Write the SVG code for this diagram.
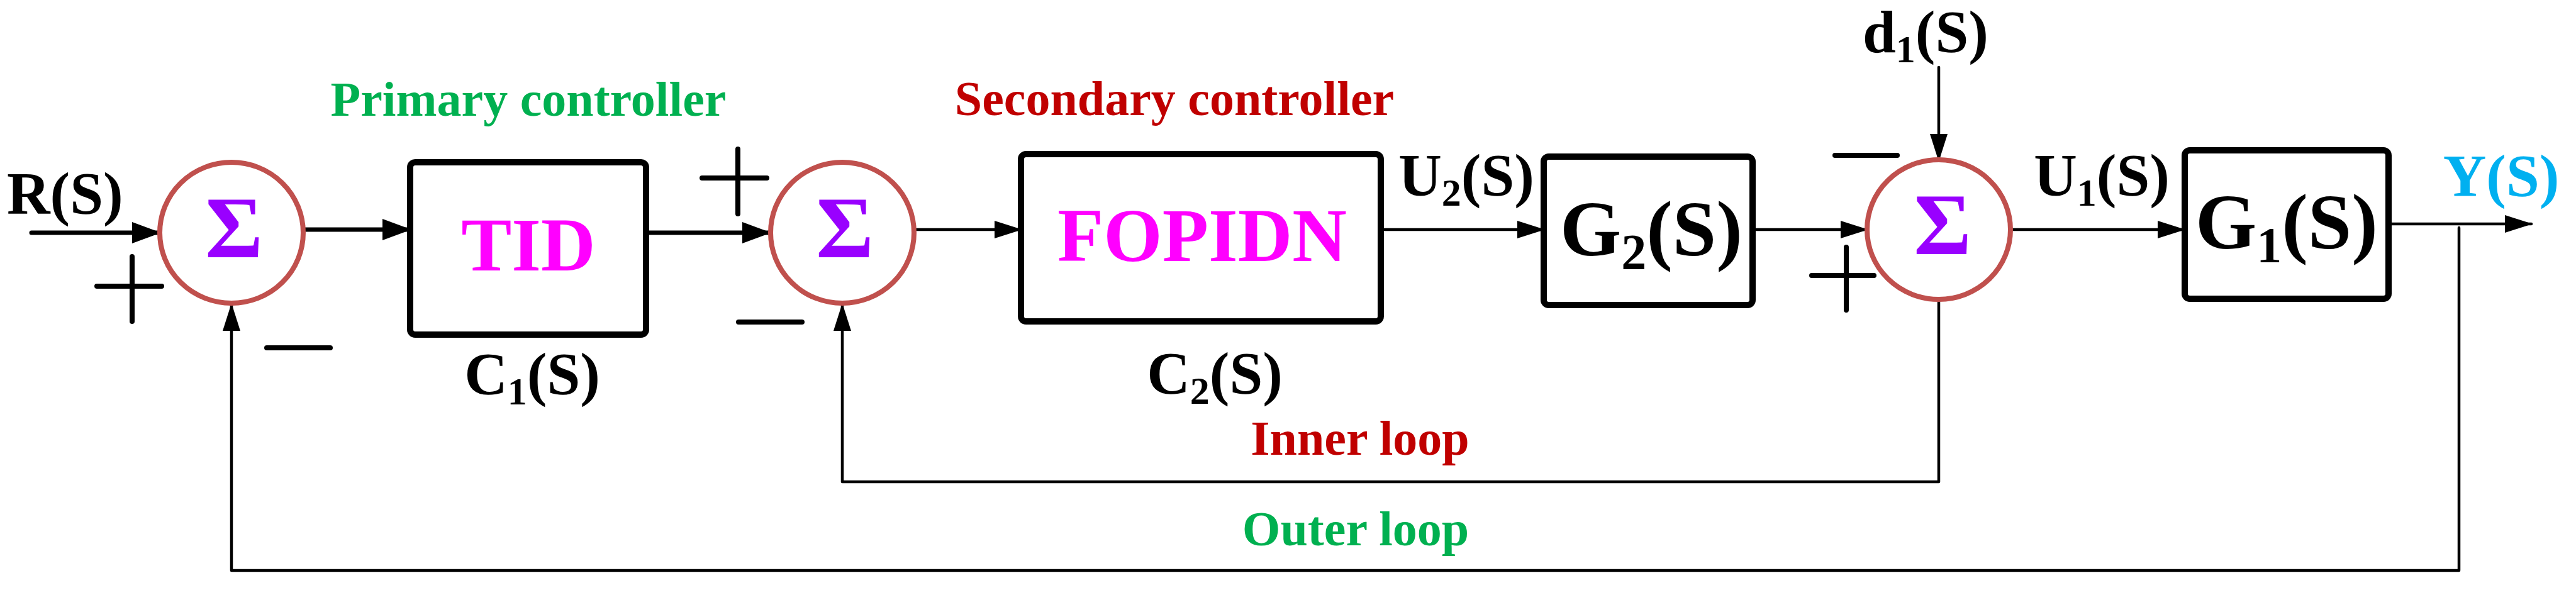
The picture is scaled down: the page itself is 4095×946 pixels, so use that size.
<svg xmlns="http://www.w3.org/2000/svg" width="4095" height="946" viewBox="0 0 4095 946">
<style>
text{font-family:"Liberation Serif","Times New Roman",serif;font-weight:bold}
.lbl{font-size:95px;fill:#000}
.blk{fill:#fff;stroke:#000;stroke-width:10}
.sum{fill:#fff;stroke:#C0504D;stroke-width:8}
.sig{font-size:140px;fill:#9900FF;text-anchor:middle}
.ctl{font-size:120px;fill:#FF00FF;text-anchor:middle}
.c{fill:none;stroke:#000;stroke-linecap:round;stroke-linejoin:round}
.thick{stroke-width:7}
.thin{stroke-width:4.5}
.sign{fill:none;stroke:#000;stroke-width:8;stroke-linecap:round}
</style>
<defs>
<marker id="ah" markerUnits="userSpaceOnUse" markerWidth="46" markerHeight="34" refX="44" refY="17" orient="auto">
<path d="M0,0 L46,17 L0,34 Z" fill="#000"/>
</marker>
<marker id="ahs" markerUnits="userSpaceOnUse" markerWidth="44" markerHeight="28" refX="42" refY="14" orient="auto">
<path d="M0,0 L44,14 L0,28 Z" fill="#000"/>
</marker>
</defs>
<g id="connectors">
<path class="c thick" d="M50,370 H254" marker-end="url(#ah)"/>
<path class="c thick" d="M482,365 H652" marker-end="url(#ah)"/>
<path class="c thick" d="M1027,370 H1224" marker-end="url(#ah)"/>
<path class="c thin" d="M1455,365 H1623" marker-end="url(#ahs)"/>
<path class="c thin" d="M2195,365 H2454" marker-end="url(#ahs)"/>
<path class="c thin" d="M2786,365 H2968" marker-end="url(#ahs)"/>
<path class="c thin" d="M3082,107 V255" marker-end="url(#ahs)"/>
<path class="c thin" d="M3195,365 H3472" marker-end="url(#ahs)"/>
<path class="c thin" d="M3797,356 H4024" marker-end="url(#ahs)"/>
<path class="c thin" d="M3082,476 V766 H1339 V484" marker-end="url(#ahs)"/>
<path class="c thin" d="M3909,362 V907 H368 V484" marker-end="url(#ahs)"/>
</g>
<g id="sum1">
<ellipse class="sum" cx="368" cy="370" rx="114" ry="112"/>
<text class="sig" x="372" y="409">Σ</text>
</g>
<g id="sum2">
<ellipse class="sum" cx="1339" cy="370" rx="114" ry="112"/>
<text class="sig" x="1343" y="409">Σ</text>
</g>
<g id="sum3">
<ellipse class="sum" cx="3082" cy="365" rx="114" ry="111"/>
<text class="sig" x="3088" y="404">Σ</text>
</g>
<g id="tid">
<rect class="blk" x="652" y="258" width="375" height="274" rx="8"/>
<text class="ctl" x="840" y="430">TID</text>
</g>
<g id="fopidn">
<rect class="blk" x="1623" y="245" width="572" height="266" rx="8"/>
<text class="ctl" x="1911" y="415">FOPIDN</text>
</g>
<g id="g2">
<rect class="blk" x="2454" y="249" width="332" height="236" rx="8"/>
<text x="2625" y="406" font-size="125" text-anchor="middle">G<tspan font-size="80" dy="22">2</tspan><tspan dy="-22">(S)</tspan></text>
</g>
<g id="g1">
<rect class="blk" x="3473" y="239" width="324" height="236" rx="8"/>
<text x="3635" y="395" font-size="125" text-anchor="middle">G<tspan font-size="80" dy="22">1</tspan><tspan dy="-22">(S)</tspan></text>
</g>
<g id="signs">
<path class="sign" d="M210,408 V511 M154,455 H257"/>
<path class="sign" d="M424,553 H525"/>
<path class="sign" d="M1173,237 V340 M1116,283 H1219"/>
<path class="sign" d="M1174,512 H1275"/>
<path class="sign" d="M2917,247 H3016"/>
<path class="sign" d="M2935,393 V493 M2880,438 H2979"/>
</g>
<g id="labels">
<text class="lbl" x="11" y="340">R(S)</text>
<text x="840" y="184" font-size="78" fill="#00B050" text-anchor="middle">Primary controller</text>
<text x="1867" y="183" font-size="78" fill="#C00000" text-anchor="middle">Secondary controller</text>
<text class="lbl" x="846" y="627" text-anchor="middle">C<tspan font-size="62" dy="16">1</tspan><tspan dy="-16">(S)</tspan></text>
<text class="lbl" x="1931" y="626" text-anchor="middle">C<tspan font-size="62" dy="16">2</tspan><tspan dy="-16">(S)</tspan></text>
<text class="lbl" x="2331" y="311" text-anchor="middle">U<tspan font-size="62" dy="16">2</tspan><tspan dy="-16">(S)</tspan></text>
<text class="lbl" x="3341" y="311" text-anchor="middle">U<tspan font-size="62" dy="16">1</tspan><tspan dy="-16">(S)</tspan></text>
<text class="lbl" x="3061" y="83" text-anchor="middle">d<tspan font-size="62" dy="16">1</tspan><tspan dy="-16">(S)</tspan></text>
<text x="3976" y="312" font-size="95" fill="#00B0F0" text-anchor="middle">Y(S)</text>
<text x="2162" y="723" font-size="78" fill="#C00000" text-anchor="middle">Inner loop</text>
<text x="2155" y="867" font-size="78" fill="#00B050" text-anchor="middle">Outer loop</text>
</g>
</svg>
